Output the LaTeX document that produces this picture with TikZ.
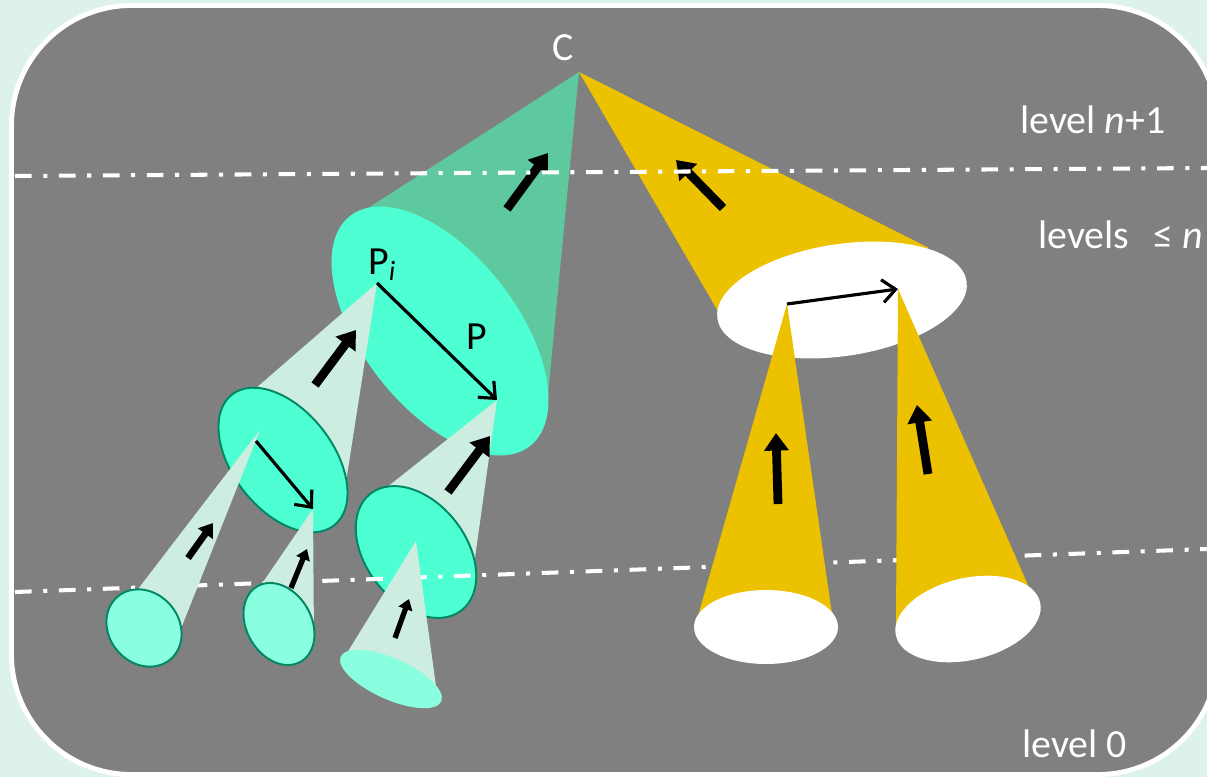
\documentclass[tikz,border=0pt]{standalone}
\usepackage{fontspec}
\setmainfont{Carlito}
\usetikzlibrary{arrows.meta}
\definecolor{mintbg}{RGB}{221,242,234}
\definecolor{panel}{RGB}{128,128,128}
\definecolor{tealcone}{RGB}{94,200,158}
\definecolor{aqua}{RGB}{77,255,210}
\definecolor{paleaqua}{RGB}{204,237,224}
\definecolor{lightaqua}{RGB}{138,255,223}
\definecolor{rimgreen}{RGB}{0,135,100}
\definecolor{goldc}{RGB}{236,193,0}
\newcommand\lblfont{\fontsize{22.7}{27}\selectfont}
\begin{document}
\begin{tikzpicture}[x=0.02cm,y=-0.02cm,
  levelline/.style={white,line width=2.3pt,dash pattern=on 9.5pt off 6.6pt on 2.3pt off 6.6pt},
  rim/.style={draw=rimgreen,line width=1.1pt},
  thinarr/.style={black,line width=1.8pt,-{Straight Barb[length=7.5pt,width=13pt]}},
  bigarr/.style={black,line width=5pt,-{Triangle[length=10pt,width=13.5pt]}},
  midarr/.style={black,line width=3.8pt,-{Triangle[length=7.5pt,width=10pt]}},
  smallarr/.style={black,line width=3pt,-{Triangle[length=6pt,width=8pt]}},
  lbl/.style={inner sep=0pt,font=\lblfont},
]
\useasboundingbox (0,0) rectangle (1207,777);
\fill[mintbg] (0,0) rectangle (1207,777);
\draw[white,line width=2.8pt,fill=panel,rounded corners=2.4cm] (11.5,5.5) rectangle (1218,774.5);

% key points
\coordinate (C) at (579,72);
\coordinate (Pi) at (377,283);
\coordinate (Pend) at (497,400);
\coordinate (Q2) at (260,430);
\coordinate (Q2end) at (313,509);
\coordinate (Q3) at (416,541);
\coordinate (W) at (787,304);
\coordinate (Wend) at (898,289);

% top cones
\fill[tealcone] (C) -- (362,212) -- (440,331) -- (547,405) -- cycle;
\fill[goldc] (C) -- (719,313) -- (842,300) -- (929,248) -- cycle;
\fill[aqua, rotate around={-52:(440,331)}] (440,331) ellipse (146 and 77);
\fill[white, rotate around={8.5:(842,300)}] (842,300) ellipse (126 and 56);

% second level teal
\fill[paleaqua] (Pi) -- (255,389) -- (283,460) -- (346,482) -- cycle;
\fill[paleaqua] (Pend) -- (386,488) -- (416,552) -- (474,565) -- cycle;
\filldraw[fill=aqua, rim, rotate around={-52:(283,460)}] (283,460) ellipse (83 and 50);
\filldraw[fill=aqua, rim, rotate around={-52:(416,552)}] (416,552) ellipse (74 and 50);

% lower level line
\coordinate (l1) at (15,592);
\coordinate (l2) at (1207,549);
\draw[levelline] (l1) -- (l2);

% third level teal
\fill[paleaqua] (Q2) -- (135,593) -- (144,628) -- (182,626) -- cycle;
\fill[paleaqua] (Q2end) -- (259,588) -- (279,624) -- (314,640) -- cycle;
\fill[paleaqua] (Q3) -- (347,653) -- (391,679) -- (436,686) -- cycle;
\filldraw[fill=lightaqua, rim, rotate around={-50:(144,628)}] (144,628) ellipse (41 and 35);
\filldraw[fill=lightaqua, rim, rotate around={-60:(279,624)}] (279,624) ellipse (43.5 and 32.4);
\fill[lightaqua, rotate around={-24:(391,679)}] (391,679) ellipse (55 and 20.5);

% lower gold cones
\fill[goldc] (W) -- (698,616) -- (766,627) -- (832,614) -- cycle;
\fill[goldc] (Wend) -- (896,626) -- (968,619) -- (1031,592) -- cycle;
\fill[white] (766,627) ellipse (72 and 37);
\fill[white, rotate around={13:(968,619)}] (968,619) ellipse (74 and 41);

% thin arrows
\draw[thinarr] (Pi) -- (Pend);
\draw[thinarr] (256,441) -- (Q2end);
\draw[thinarr] (W) -- (Wend);

% thick arrows
\coordinate (a1s) at (507,209); \coordinate (a1e) at (548,153);
\coordinate (a2s) at (723,208); \coordinate (a2e) at (676,160);
\coordinate (a3s) at (315,385); \coordinate (a3e) at (356,330);
\coordinate (a4s) at (448,492); \coordinate (a4e) at (490,436);
\coordinate (a5s) at (188,558); \coordinate (a5e) at (213,523);
\coordinate (a6s) at (291,588); \coordinate (a6e) at (307,549);
\coordinate (a7s) at (395,638); \coordinate (a7e) at (409,599);
\coordinate (a8s) at (778,504); \coordinate (a8e) at (776,433);
\coordinate (a9s) at (928,474); \coordinate (a9e) at (917,405);
\draw[bigarr] (a1s) -- (a1e);
\draw[bigarr] (a2s) -- (a2e);
\draw[bigarr] (a3s) -- (a3e);
\draw[bigarr] (a4s) -- (a4e);
\draw[midarr] (a5s) -- (a5e);
\draw[smallarr] (a6s) -- (a6e);
\draw[smallarr] (a7s) -- (a7e);
\draw[bigarr] (a8s) -- (a8e);
\draw[bigarr] (a9s) -- (a9e);

% upper level line
\coordinate (u1) at (15,176);
\coordinate (u2) at (1207,168);
\draw[levelline] (u1) -- (u2);

% labels
\node[lbl, text=white, anchor=base] (Clbl) at (563,61) {C};
\node[lbl, text=white, anchor=base west] (lvA) at (1020,133) {level \textit{n}+1};
\node[lbl, text=white, anchor=base west] (lvB) at (1038,248) {levels\hspace{0.6em}≤ \textit{n}};
\node[lbl, text=white, anchor=base west] (lv0) at (1022,757) {level 0};
\node[lbl, text=black, anchor=base west] (Pilbl) at (368,274) {P\textsubscript{\textit{i}}};
\node[lbl, text=black, anchor=base west] (Plbl) at (466,349) {P};
\end{tikzpicture}
\end{document}
